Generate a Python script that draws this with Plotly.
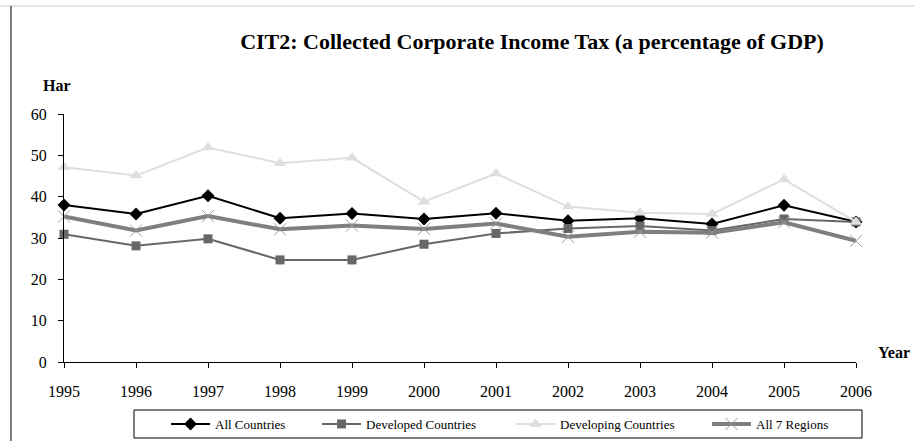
import plotly.graph_objects as go

years = [1995, 1996, 1997, 1998, 1999, 2000, 2001, 2002, 2003, 2004, 2005, 2006]
all_countries = [38.0, 35.8, 40.2, 34.8, 35.9, 34.6, 36.0, 34.2, 34.8, 33.4, 37.9, 33.9]
developed = [30.9, 28.1, 29.8, 24.7, 24.7, 28.5, 31.1, 32.3, 32.9, 31.8, 34.6, 33.9]
developing = [47.1, 45.1, 51.9, 48.1, 49.4, 38.8, 45.6, 37.6, 36.1, 35.8, 44.2, 33.9]
all_regions = [35.2, 31.8, 35.3, 32.1, 33.0, 32.2, 33.5, 30.3, 31.5, 31.3, 33.8, 29.3]
y_ticks = [0, 10, 20, 30, 40, 50, 60]

W, H = 914, 441
ML, MR, MT, MB = 64, 58, 114, 79
PW, PH = W - ML - MR, H - MT - MB

def px_x(px):
    return (px - ML) / PW

def px_y(py):
    return (H - MB - py) / PH

serif = "Liberation Serif, Times New Roman, serif"

# series styling and the left edge of each legend entry
series = [
    ("All Countries", all_countries, dict(color="#000000", width=2),
     dict(symbol="diamond", size=10, color="#000000"), "legend", 166),
    ("Developed Countries", developed, dict(color="#676767", width=2),
     dict(symbol="square", size=9, color="#676767"), "legend2", 317),
    ("Developing Countries", developing, dict(color="#dedede", width=2),
     dict(symbol="triangle-up", size=11, color="#dedede"), "legend3", 511),
    ("All 7 Regions", all_regions, dict(color="#7f7f7f", width=4),
     dict(symbol="x-thin", size=12, color="#9a9a9a",
          line=dict(color="#9a9a9a", width=1)), "legend4", 707),
]

fig = go.Figure()
legend_layout = {}
for name, values, line, marker, leg, lx in series:
    fig.add_trace(go.Scatter(
        x=years, y=values, name=name, mode="lines+markers",
        line=line, marker=marker, cliponaxis=False, legend=leg))
    legend_layout[leg] = dict(
        orientation="h", x=px_x(lx), xanchor="left", y=px_y(424),
        yanchor="middle", borderwidth=0, bgcolor="rgba(0,0,0,0)",
        font=dict(family=serif, size=13, color="#000000"),
        itemwidth=39, tracegroupgap=0)

fig.update_layout(
    width=W, height=H,
    margin=dict(l=ML, r=MR, t=MT, b=MB, autoexpand=False),
    paper_bgcolor="white", plot_bgcolor="white",
    showlegend=True,
    font=dict(family=serif, color="#000000", size=13),
    title=dict(
        text="<b>CIT2: Collected Corporate Income Tax (a percentage of GDP)</b>",
        font=dict(family=serif, size=22, color="#000000"),
        x=532 / W, xanchor="center", y=1 - 41 / H, yanchor="middle"),
    xaxis=dict(
        range=[1995, 2006], tickvals=years, ticktext=[str(y) for y in years],
        showgrid=False, zeroline=False, showline=True, linecolor="#000000",
        linewidth=1, ticks="outside", ticklen=5, tickcolor="#000000",
        ticklabelstandoff=10,
        tickfont=dict(family=serif, size=16, color="#000000")),
    yaxis=dict(
        range=[0, 60], tickvals=y_ticks, showgrid=False, zeroline=False,
        showline=True, linecolor="#000000", linewidth=1, ticks="outside",
        ticklen=5, tickcolor="#000000", ticklabelstandoff=8,
        tickfont=dict(family=serif, size=16, color="#000000")),
    annotations=[
        dict(text="<b>Har</b>", xref="paper", yref="paper", x=px_x(57),
             y=px_y(85), showarrow=False, xanchor="center", yanchor="middle",
             font=dict(family=serif, size=16, color="#000000")),
        dict(text="<b>Year</b>", xref="paper", yref="paper", x=px_x(876),
             y=px_y(352), showarrow=False, xanchor="left", yanchor="middle",
             font=dict(family=serif, size=16, color="#000000")),
    ],
    shapes=[
        dict(type="line", xref="paper", yref="paper", x0=px_x(0), x1=px_x(W),
             y0=px_y(6), y1=px_y(6), line=dict(color="#cccccc", width=1)),
        dict(type="line", xref="paper", yref="paper", x0=px_x(11), x1=px_x(11),
             y0=px_y(6), y1=px_y(H), line=dict(color="#000000", width=1)),
        dict(type="rect", xref="paper", yref="paper", x0=px_x(134), x1=px_x(862),
             y0=px_y(410), y1=px_y(438), line=dict(color="#000000", width=1)),
    ],
    **legend_layout,
)

fig.write_html("out.html")
